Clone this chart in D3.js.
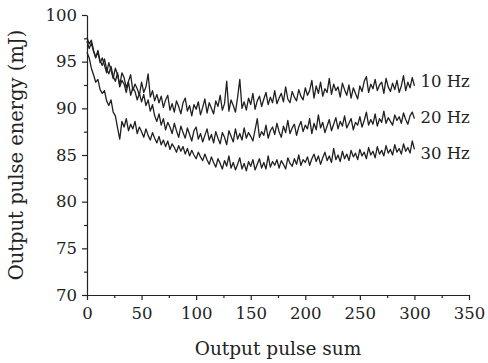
<!DOCTYPE html>
<html>
<head>
    <script src="https://cdnjs.cloudflare.com/ajax/libs/d3/7.8.5/d3.min.js"></script>
    <style>
        body { margin: 0; background: #fff; }
        text { font-family: "DejaVu Serif", serif; fill: #222; }
        .axis path, .axis line { stroke: #222; stroke-width: 1.2px; }
        .series { fill: none; stroke: #202020; stroke-width: 1.3px; stroke-linejoin: round; }
    </style>
</head>
<body>
    <div id="chart"></div>
    <script>
        const width = 488, height = 363;
        const margin = { top: 15, right: 19, bottom: 68, left: 87 };

        // one reading every 2 pulses, pulse 0..300
        const step = 2;
        const hz10 = [97.6,96.9,97.3,96.2,95.5,96.0,94.9,95.4,94.6,93.8,94.9,94.1,93.2,94.3,93.6,92.5,93.8,93.3,92.2,92.9,
            93.6,91.9,92.6,92.1,91.4,92.8,91.7,92.3,93.7,91.2,91.9,90.8,91.5,90.6,91.3,90.1,90.9,91.4,89.8,90.5,
            89.6,90.8,90.2,89.4,90.6,91.1,89.7,90.3,89.2,90.4,89.9,90.7,89.3,90.1,91.0,89.5,90.6,90.0,89.4,90.8,
            90.2,91.4,89.8,90.5,92.9,89.7,90.9,90.3,89.6,91.2,93.1,90.0,90.7,89.8,91.1,90.4,91.6,89.9,90.8,91.3,
            90.2,91.0,91.7,90.4,91.2,90.6,91.9,90.5,91.1,91.6,90.7,92.3,91.0,90.6,91.8,91.2,90.8,92.0,91.3,90.9,
            92.2,91.4,91.9,93.0,91.1,92.4,91.6,92.8,91.3,92.1,91.7,93.2,91.5,92.6,91.9,92.3,91.2,92.7,92.0,91.4,
            92.5,91.1,92.2,91.6,91.0,92.4,91.8,92.9,93.4,91.7,92.6,92.1,93.1,91.9,92.5,92.8,91.6,93.2,92.3,91.8,
            92.7,92.0,93.0,91.7,92.4,93.5,91.9,92.8,92.2,93.3,92.4];
        const hz20 = [97.2,96.4,97.0,96.1,95.4,96.2,95.1,94.6,95.3,94.2,93.7,94.5,93.4,92.9,93.8,92.3,93.0,92.6,91.7,92.8,
            91.4,92.2,91.8,90.9,91.6,90.7,91.5,90.3,90.9,89.7,90.4,89.2,88.6,89.4,88.2,88.9,87.7,88.5,88.0,87.3,
            88.4,87.6,86.9,88.1,87.4,86.8,87.9,87.2,86.5,87.6,88.0,86.7,87.3,86.4,87.1,87.8,86.6,87.2,86.3,87.5,
            86.8,86.2,87.4,86.9,86.1,87.6,87.0,86.4,87.8,86.7,87.3,86.6,87.9,86.8,87.4,87.0,86.5,87.7,88.9,86.9,
            87.5,87.1,88.2,86.8,87.6,88.0,87.2,88.4,87.5,86.9,88.1,87.4,88.7,87.3,87.9,88.3,87.1,88.0,88.6,87.5,
            88.2,87.8,88.9,87.3,88.4,87.7,89.3,87.9,88.5,87.4,88.1,88.8,87.6,88.3,89.0,87.8,88.6,88.1,89.2,87.9,
            88.4,88.9,87.7,88.5,88.2,89.1,88.0,88.7,89.6,88.2,88.8,88.3,89.4,88.1,88.9,88.5,89.7,88.4,89.0,88.6,
            88.2,89.3,88.7,89.1,88.4,89.5,88.8,88.3,89.2,89.6,88.9];
        const hz30 = [96.0,95.4,94.3,93.6,92.8,93.1,92.0,91.6,91.9,90.8,90.3,90.9,89.6,89.2,87.9,86.7,88.6,88.0,88.9,87.6,
            88.3,87.8,88.6,87.3,88.0,87.5,86.9,87.8,87.1,86.6,87.4,86.8,86.3,87.0,86.1,86.6,85.9,86.5,85.6,86.2,
            85.8,85.3,86.0,85.4,85.9,85.1,85.7,84.9,85.5,85.0,84.6,85.3,84.8,84.4,85.1,84.5,84.0,84.8,84.2,83.7,
            84.6,84.1,83.5,84.4,83.8,84.9,83.6,84.2,83.4,84.0,84.7,83.5,84.1,83.3,84.3,83.8,84.5,83.4,84.0,84.6,
            83.6,84.2,83.5,84.9,83.7,84.3,83.9,84.5,83.6,84.4,84.0,83.5,84.7,84.1,83.8,84.6,84.0,85.0,83.9,84.5,
            84.2,84.8,83.9,84.6,85.1,84.3,84.9,84.0,84.7,85.3,84.4,84.9,84.2,85.7,84.5,85.0,84.3,85.4,84.6,85.1,
            84.4,85.5,84.8,85.2,84.5,85.6,84.9,85.3,84.6,85.8,85.0,85.4,84.7,85.9,85.1,85.5,84.9,86.0,85.2,85.6,
            85.0,86.1,85.3,85.7,85.1,86.2,85.4,85.8,85.2,86.5,85.6];

        const seriesNames = ["10 Hz", "20 Hz", "30 Hz"];
        const labelLevels = [92.9, 89.0, 85.2];
        const xTicks = [0, 50, 100, 150, 200, 250, 300, 350];
        const yTicks = [70, 75, 80, 85, 90, 95, 100];

        const svg = d3.select("#chart").append("svg")
            .attr("width", width).attr("height", height);

        const x = d3.scaleLinear().domain([0, 350]).range([margin.left, width - margin.right]);
        const y = d3.scaleLinear().domain([70, 100]).range([height - margin.bottom, margin.top]);

        // minor ticks first, then major ones with labels
        svg.append("g").attr("class", "axis")
            .attr("transform", `translate(0,${height - margin.bottom})`)
            .call(d3.axisBottom(x).tickValues(d3.range(25, 350, 50)).tickSize(3).tickFormat(""))
            .select(".domain").remove();
        svg.append("g").attr("class", "axis")
            .attr("transform", `translate(${margin.left},0)`)
            .call(d3.axisLeft(y).tickValues(d3.range(72.5, 100, 5)).tickSize(3).tickFormat(""))
            .select(".domain").remove();

        svg.append("g").attr("class", "axis")
            .attr("transform", `translate(0,${height - margin.bottom})`)
            .call(d3.axisBottom(x).tickValues(xTicks).tickSize(5).tickSizeOuter(0).tickPadding(7));
        svg.append("g").attr("class", "axis")
            .attr("transform", `translate(${margin.left},0)`)
            .call(d3.axisLeft(y).tickValues(yTicks).tickSize(5).tickSizeOuter(0).tickPadding(5));
        svg.selectAll(".axis text").style("font-size", "16.5px").style("font-family", "DejaVu Serif");

        const line = d3.line().x((d, i) => x(i * step)).y(d => y(d));
        [hz10, hz20, hz30].forEach(s => {
            svg.append("path").datum(s).attr("class", "series").attr("d", line);
        });

        svg.selectAll(".label").data(seriesNames).enter().append("text")
            .attr("x", x(300) + 6)
            .attr("y", (d, i) => y(labelLevels[i]))
            .attr("dy", "0.35em")
            .style("font-size", "16.5px")
            .text(d => d);

        svg.append("text")
            .attr("x", (margin.left + width - margin.right) / 2)
            .attr("y", height - 8)
            .attr("text-anchor", "middle")
            .style("font-size", "18.5px")
            .text("Output pulse sum");

        svg.append("text")
            .attr("transform", `translate(23,${155}) rotate(-90)`)
            .attr("text-anchor", "middle")
            .style("font-size", "19.5px")
            .text("Output pulse energy (mJ)");
    </script>
</body>
</html>
